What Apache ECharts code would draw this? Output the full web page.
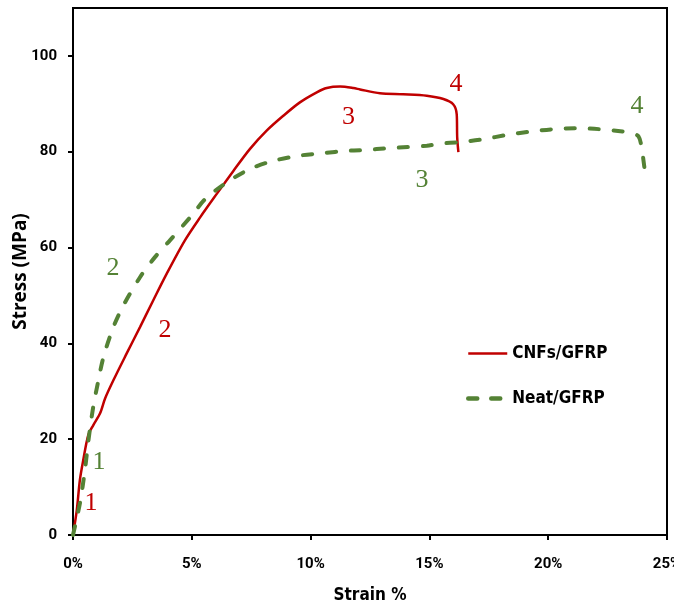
<!DOCTYPE html>
<html><head><meta charset="utf-8">
<script src="https://cdn.jsdelivr.net/npm/echarts@6/dist/echarts.min.js"></script>
<style>html,body{margin:0;padding:0;background:#fff}#c{width:674px;height:611px}</style>
</head><body><div id="c"></div>
<script>
// Strain (%) , Stress (MPa)
const cnfStrain = [0,0.16,0.29,0.43,0.64,0.85,1.14,1.35,1.7,2.26,2.82,3.38,3.94,4.71,5.35,6.05,6.75,7.45,8.15,8.85,9.55,10.26,10.68,11.24,11.8,12.08,12.92,13.9,14.89,15.59,16.0,16.15,16.17,16.22];
const cnfStress = [0,5.2,11.5,15.6,20.8,22.9,25.4,28.5,32.3,37.9,43.4,49,54.5,61.5,66.3,71.2,76,80.6,84.4,87.5,90.3,92.4,93.3,93.6,93.3,93.0,92.2,92.0,91.7,91.0,89.9,87.8,83,79.9];
const neatStrain = [0,0.29,0.5,0.64,0.85,1.07,1.28,1.7,2.12,2.82,3.45,4.08,5.0,5.56,6.47,7.45,8.43,9.55,10.53,11.52,12.08,13.48,14.89,15.45,16.29,17.27,18.25,19.23,20.21,21.2,22.18,23.16,23.5,23.8,23.93,24.07,24.1];
const neatStress = [0,6.6,13.5,19.4,26.7,32.3,37.1,43.4,47.9,53.8,58,61.5,66.7,70.1,73.6,76.4,78.1,79.2,79.7,80.2,80.3,80.8,81.25,81.7,82.0,82.6,83.5,84.2,84.7,84.9,84.7,84.2,83.9,83.2,80.9,76.0,75.5];
const seriesNames = ['CNFs/GFRP','Neat/GFRP'];
const yTicks = [0,20,40,60,80,100];
const xTicks = [0,5,10,15,20,25];
// stage labels [strain, stress, text]
const cnfStages = [[0.76,6.7,'1'],[3.87,42.7,'2'],[11.6,87.3,'3'],[16.12,94.2,'4']];
const neatStages = [[1.09,15.2,'1'],[1.68,55.6,'2'],[14.69,74,'3'],[23.74,89.6,'4']];

const red = '#C00000', green = '#548235';
const narrow = "'DejaVu Sans Condensed', 'Open Sans', sans-serif";
const tickFont = "Roboto, 'Open Sans', sans-serif";
const zip = (a,b)=>a.map((v,i)=>[v,b[i]]);
const stageMP = (arr,color)=>({
  symbol:'circle', symbolSize:1, silent:true, itemStyle:{color:'rgba(0,0,0,0)'},
  label:{show:true, position:'inside', formatter:p=>p.name, color:color, fontFamily:'Liberation Serif', fontSize:26},
  data: arr.map(d=>({name:d[2], coord:[d[0],d[1]]}))
});
const chart = echarts.init(document.getElementById('c'), null, {renderer:'canvas'});
chart.setOption({
  animation:false,
  grid:{left:73, right:7, top:8, bottom:76, show:true, borderColor:'#000', borderWidth:2, outerBoundsMode:'none', containLabel:false},
  legend:{
    left:466, top:345, orient:'vertical', padding:0, itemWidth:39, itemHeight:20, itemGap:28,
    itemStyle:{opacity:0},
    textStyle:{fontFamily:narrow, fontWeight:'bold', fontSize:17, color:'#000'},
    data:[
      {name:seriesNames[0], lineStyle:{width:2.5, color:red}},
      {name:seriesNames[1], lineStyle:{width:4.5, color:green, type:[9,14], cap:'round'}}
    ]
  },
  xAxis:{
    type:'value', min:0, max:25, interval:5,
    name:'Strain %', nameLocation:'middle', nameGap:52,
    nameTextStyle:{fontFamily:narrow, fontWeight:'bold', fontSize:17, color:'#000'},
    axisLine:{lineStyle:{color:'#000', width:2}},
    axisTick:{show:true, length:5, lineStyle:{color:'#000', width:2}},
    axisLabel:{formatter:v=>v+'%', margin:22, fontFamily:tickFont, fontWeight:'bold', fontSize:15, color:'#000'},
    splitLine:{show:false}
  },
  yAxis:{
    type:'value', min:0, max:110,
    name:'Stress (MPa)', nameLocation:'middle', nameGap:43, nameMoveOverlap:false,
    nameTextStyle:{fontFamily:'Open Sans', fontWeight:'bold', fontSize:19, color:'#000'},
    axisLine:{lineStyle:{color:'#000', width:2}},
    axisTick:{show:true, length:5, customValues:yTicks, lineStyle:{color:'#000', width:2}},
    axisLabel:{customValues:yTicks, margin:16, fontFamily:tickFont, fontWeight:'bold', fontSize:15, color:'#000'},
    splitLine:{show:false}
  },
  series:[
    {name:seriesNames[0], type:'line', data:zip(cnfStrain,cnfStress), symbol:'none', smooth:0.3,
     lineStyle:{color:red, width:2.5}, itemStyle:{color:red}, markPoint:stageMP(cnfStages,red)},
    {name:seriesNames[1], type:'line', data:zip(neatStrain,neatStress), symbol:'none', smooth:0.3,
     lineStyle:{color:green, width:4, type:[9,15], cap:'round'}, itemStyle:{color:green}, markPoint:stageMP(neatStages,green)}
  ]
});
</script></body></html>
